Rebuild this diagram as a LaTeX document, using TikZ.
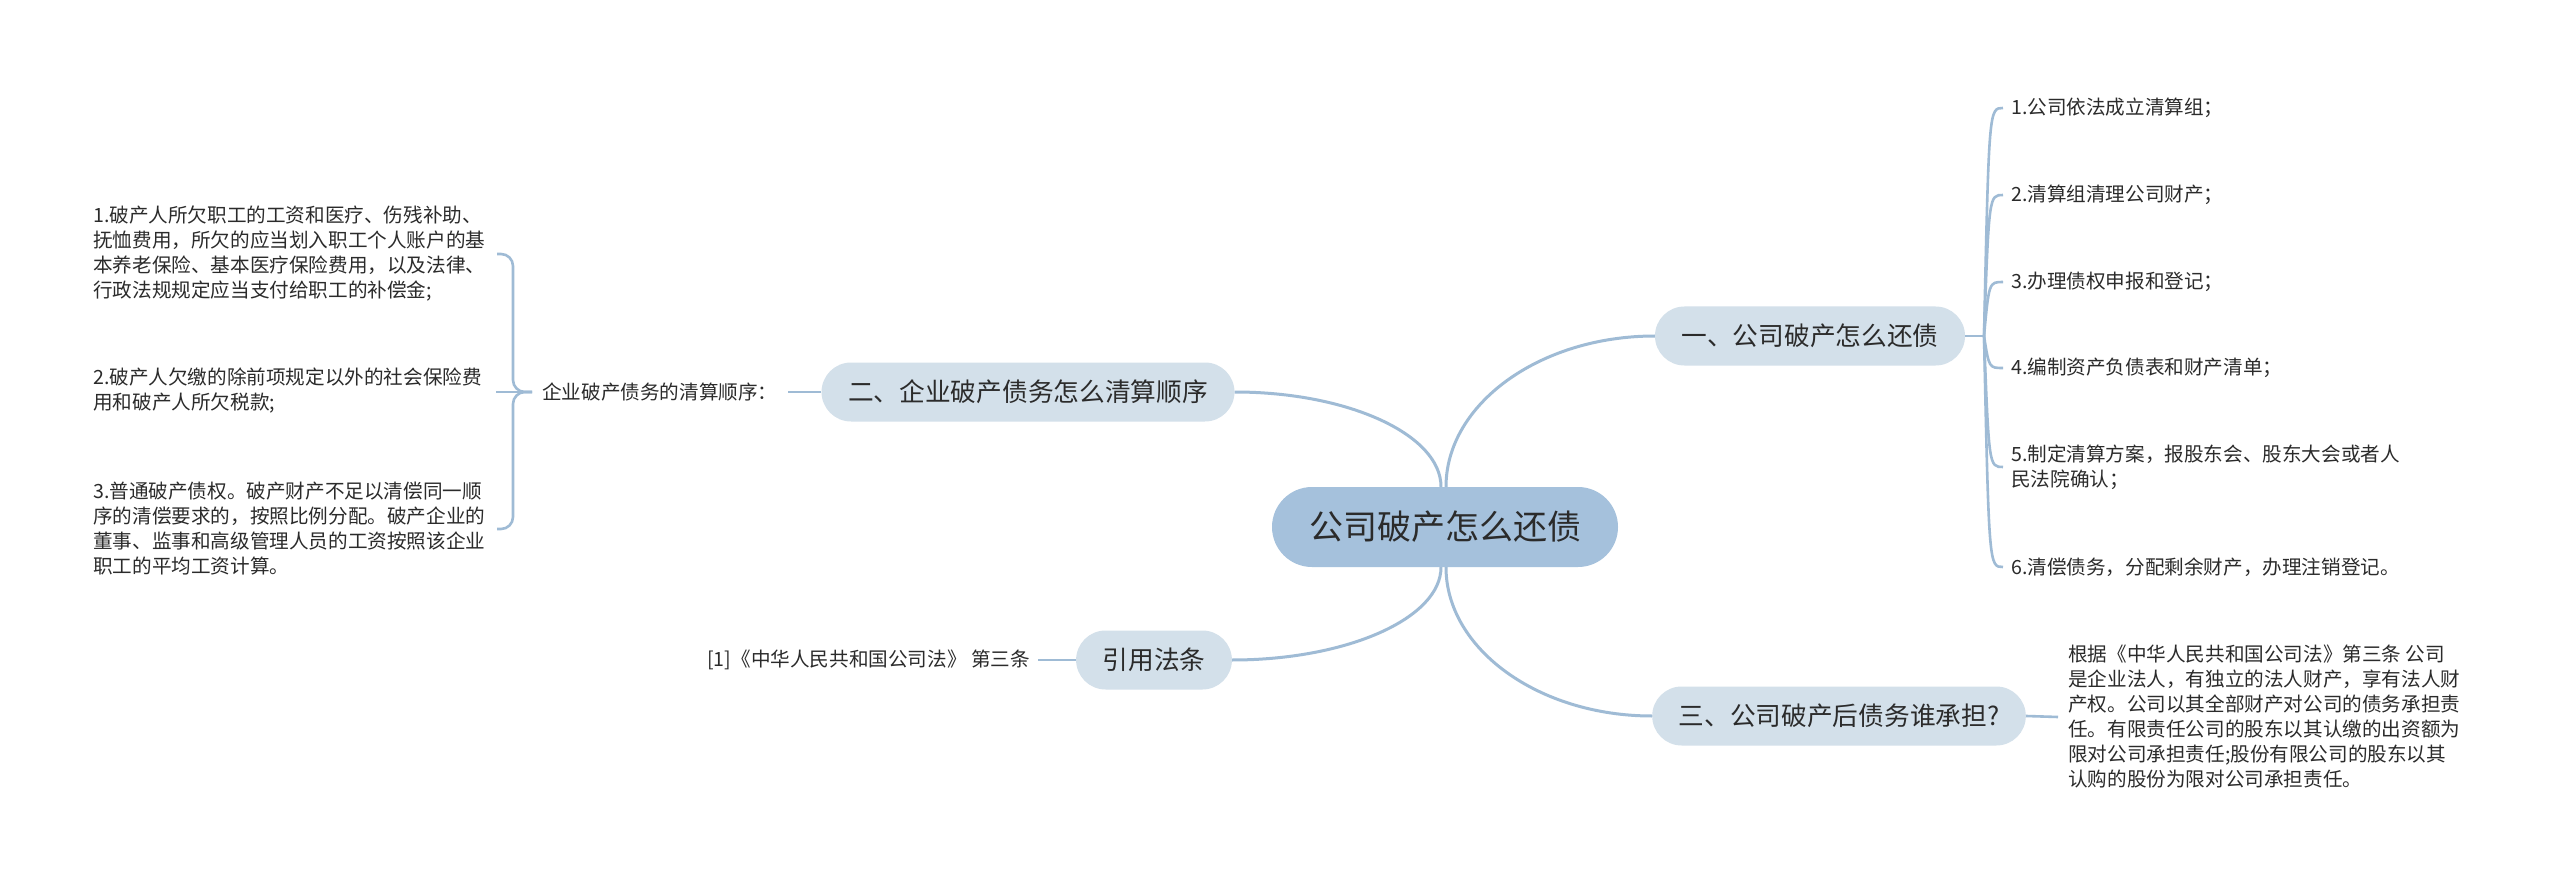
\documentclass[tikz,border=0pt]{standalone}
\usepackage{fontspec}
\setmainfont{Noto Sans CJK SC}
\usetikzlibrary{shapes.misc,calc}
\definecolor{rootfill}{HTML}{A5C1DC}
\definecolor{branchfill}{HTML}{D3E0EA}
\definecolor{linec}{HTML}{9FBBD5}
\definecolor{txt}{HTML}{2B2B2B}
\begin{document}
\begin{tikzpicture}[x=1pt,y=-1pt,
  rootbox/.style={rounded rectangle, fill=rootfill, minimum width=346pt, minimum height=80pt, inner xsep=0pt, text=txt, font=\fontsize{34}{40}\selectfont},
  branchbox/.style={rounded rectangle, fill=branchfill, minimum height=59pt, inner xsep=24pt, text=txt, font=\fontsize{25.7}{30}\selectfont},
  leaf/.style={inner sep=0pt, align=left, text=txt, font=\fontsize{19.6}{25}\selectfont},
  conn/.style={draw=linec, line width=3pt},
  thin/.style={draw=linec, line width=2.6pt}]
\useasboundingbox[fill=white] (0,0) rectangle (2560,885);

% root and branches
\node[rootbox] (root) at (1445,527) {公司破产怎么还债};
\node[branchbox] (b1) at (1810,336) {一、公司破产怎么还债};
\node[branchbox] (b2) at (1028,392) {二、企业破产债务怎么清算顺序};
\node[branchbox] (b4) at (1154,660) {引用法条};
\node[branchbox] (b3) at (1839,716) {三、公司破产后债务谁承担?};

\coordinate (r1) at ($(root.north)+(1,0)$);
\coordinate (r2) at ($(root.north)+(-4,0)$);
\coordinate (r3) at ($(root.south)+(-4,0)$);
\coordinate (r4) at ($(root.south)+(1,0)$);
\coordinate (k1) at (r1 |- b1.west);
\coordinate (k2) at (r2 |- b2.east);
\coordinate (k3) at (r3 |- b4.east);
\coordinate (k4) at (r4 |- b3.west);
\draw[conn] (r1) .. controls ($(r1)!0.55!(k1)$) and ($(b1.west)!0.55!(k1)$) .. (b1.west);
\draw[conn] (r2) .. controls ($(r2)!0.55!(k2)$) and ($(b2.east)!0.55!(k2)$) .. (b2.east);
\draw[conn] (r3) .. controls ($(r3)!0.55!(k3)$) and ($(b4.east)!0.55!(k3)$) .. (b4.east);
\draw[conn] (r4) .. controls ($(r4)!0.55!(k4)$) and ($(b3.west)!0.55!(k4)$) .. (b3.west);

% branch 1 children
\node[leaf, anchor=west] (a1) at (2011,108) {1.公司依法成立清算组；};
\node[leaf, anchor=west] (a2) at (2011,195) {2.清算组清理公司财产；};
\node[leaf, anchor=west] (a3) at (2011,282) {3.办理债权申报和登记；};
\node[leaf, anchor=west] (a4) at (2011,368) {4.编制资产负债表和财产清单；};
\node[leaf, anchor=west] (a5) at (2011,467) {5.制定清算方案，报股东会、股东大会或者人\\民法院确认；};
\node[leaf, anchor=west] (a6) at (2011,567) {6.清偿债务，分配剩余财产，办理注销登记。};
\coordinate (j1) at (1984,336);
\draw[thin] (b1.east) -- (j1);
\foreach \i in {1,...,6}{
  \draw[thin] (j1) .. controls ($(j1 |- a\i.west)+(5,0)$) .. ($(a\i.west)+(-8,0)$);
}

% branch 2 children
\node[leaf, anchor=west] (q) at (542,392) {企业破产债务的清算顺序：};
\draw[thin] (b2.west) -- ($(q.east)+(10,0)$);
\node[leaf, anchor=west] (l1) at (93,254) {1.破产人所欠职工的工资和医疗、伤残补助、\\抚恤费用，所欠的应当划入职工个人账户的基\\本养老保险、基本医疗保险费用，以及法律、\\行政法规规定应当支付给职工的补偿金;};
\node[leaf, anchor=west] (l2) at (93,391) {2.破产人欠缴的除前项规定以外的社会保险费\\用和破产人所欠税款;};
\node[leaf, anchor=west] (l3) at (93,529) {3.普通破产债权。破产财产不足以清偿同一顺\\序的清偿要求的，按照比例分配。破产企业的\\董事、监事和高级管理人员的工资按照该企业\\职工的平均工资计算。};
\coordinate (jl) at ($(q.west)+(-10,0)$);
\coordinate (sp) at (513,392);
\coordinate (e1) at (497,254);
\coordinate (e2) at (496,392);
\coordinate (e3) at (497,529);
\draw[thin] (jl) -- (e2);
\draw[thin, rounded corners=12pt] (jl) -- (sp) |- (e1);
\draw[thin, rounded corners=12pt] (jl) -- (sp) |- (e3);

% branch 3 child
\node[leaf, anchor=west] (t3) at (2068,717) {根据《中华人民共和国公司法》第三条 公司\\是企业法人，有独立的法人财产，享有法人财\\产权。公司以其全部财产对公司的债务承担责\\任。有限责任公司的股东以其认缴的出资额为\\限对公司承担责任;股份有限公司的股东以其\\认购的股份为限对公司承担责任。};
\draw[thin] (b3.east) -- ($(t3.west)+(-10,0)$);

% citation child
\node[leaf, anchor=east] (y1) at (1030,660) {[1]《中华人民共和国公司法》 第三条};
\draw[thin] (b4.west) -- ($(y1.east)+(8,0)$);
\end{tikzpicture}
\end{document}
